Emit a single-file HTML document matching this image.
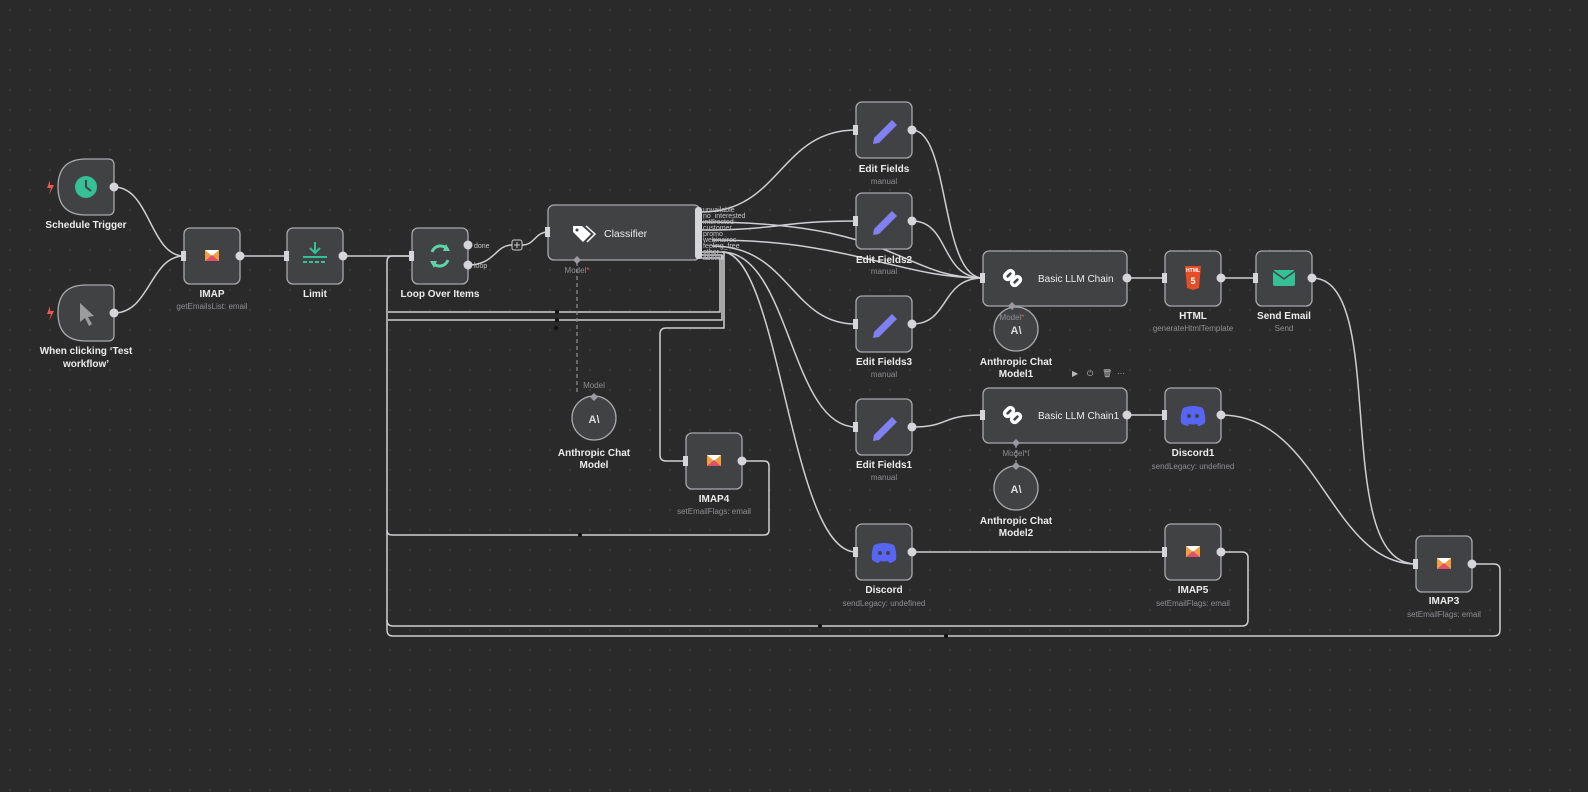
<!DOCTYPE html>
<html><head><meta charset="utf-8"><style>
html,body{margin:0;padding:0;background:#2a2a2b;}
svg{display:block;font-family:"Liberation Sans",sans-serif;}
.n{fill:#414244;stroke:#a9a9ad;stroke-width:1.3}
.w{fill:none;stroke:#cfcfd3;stroke-width:1.5}
.t{fill:#ececec;font-size:10px;font-weight:bold;text-anchor:middle}
.s{fill:#8f8f93;font-size:8px;text-anchor:middle}
.h{fill:#d6d6da}
.p{fill:#c8c8cc}
.o{fill:#c5c5ca;font-size:7px}
</style></head><body>
<svg width="1588" height="792" viewBox="0 0 1588 792">
<defs><pattern id="d" width="20" height="20" patternUnits="userSpaceOnUse"><circle cx="10" cy="10" r="0.8" fill="#454547"/></pattern></defs>
<rect width="1588" height="792" fill="#2a2a2b"/>
<rect width="1588" height="792" fill="url(#d)"/>

<!-- wires -->
<g class="w">
<path d="M114 187 C150 187,150 256,184 256"/>
<path d="M114 313 C150 313,150 256,184 256"/>
<path d="M240 256 H287"/>
<path d="M343 256 H412"/>
<path d="M468 265 C495 265,495 245,512 245"/>
<path d="M522 245 C535 245,535 232,548 232"/>
<!-- classifier outputs -->
<path d="M702 212 C780 212,780 130,856 130"/>
<path d="M702 230 C780 230,780 221,856 221"/>
<path d="M712 246 C790 246,790 324,856 324"/>
<path d="M722 252 C790 252,790 427,856 427"/>
<path d="M722 252 C780 252,790 552,856 552"/>
<path d="M712 240 C850 240,900 278,983 278"/>
<path d="M702 222 C900 222,900 278,983 278"/>
<!-- loopbacks -->
<path d="M700 258 H720 V312 H388"/>
<path d="M700 255 H722 V320 H388"/>
<path d="M700 252 H724 V328 H666 Q660 328 660 334 V455 Q660 461 666 461 H686"/>
<path d="M742 461 H764 Q769 461 769 466 V530 Q769 535 764 535 H392 Q387 535 387 530"/>
<path d="M412 256 H392 Q387 256 387 262 V630 Q387 636 393 636 H1494 Q1500 636 1500 630 V570 Q1500 564 1494 564 H1472"/>
<path d="M387 620 Q387 626 393 626 H1242 Q1248 626 1248 620 V558 Q1248 552 1242 552 H1221"/>
<!-- edit fields to chains -->
<path d="M912 130 C950 130,940 278,983 278"/>
<path d="M912 221 C950 221,940 278,983 278"/>
<path d="M912 324 C950 324,940 278,983 278"/>
<path d="M912 427 C950 427,940 415,983 415"/>
<path d="M912 552 H1165"/>
<path d="M1127 278 H1165"/>
<path d="M1221 278 H1256"/>
<path d="M1127 415 H1165"/>
<path d="M1312 278 C1390 278,1330 564,1416 564"/>
<path d="M1221 415 C1320 415,1330 564,1416 564"/>
</g>
<g fill="#111"><circle cx="557" cy="312" r="2"/><circle cx="557" cy="320" r="2"/><circle cx="556" cy="328" r="2"/><circle cx="580" cy="535" r="2"/><circle cx="820" cy="626" r="2"/><circle cx="946" cy="636" r="2"/></g>
<!-- model dashed -->
<path d="M577 262 V395" stroke="#8a8a8e" stroke-width="1.3" stroke-dasharray="4 3" fill="none"/>
<path d="M1012 308 V318" stroke="#8a8a8e" stroke-width="1.3" stroke-dasharray="3 2"/>
<path d="M1016 445 V466" stroke="#8a8a8e" stroke-width="1.3" stroke-dasharray="3 2"/>

<!-- nodes -->
<path class="n" d="M86 159 H108 Q114 159 114 165 V209 Q114 215 108 215 H86 Q58 215 58 187 Q58 159 86 159Z"/>
<circle cx="86" cy="187" r="11" fill="#35c096"/><path d="M86 180 V187 L91 191" stroke="#414244" stroke-width="2" fill="none"/>
<path class="n" d="M86 285 H108 Q114 285 114 291 V335 Q114 341 108 341 H86 Q58 341 58 313 Q58 285 86 285Z"/>
<path d="M80 303 L80 322 L85 318 L89 326 L92 324 L88 317 L94 316Z" fill="#9c9c9f"/>
<path d="M50 180 L47 188 L51 188 L49 195 L54 185 L50 185Z" fill="#ea5a4e"/>
<path d="M50 306 L47 314 L51 314 L49 321 L54 311 L50 311Z" fill="#ea5a4e"/>
<text class="t" x="86" y="228">Schedule Trigger</text>
<text class="t" x="86" y="354">When clicking ‘Test</text>
<text class="t" x="86" y="367">workflow’</text>

<rect class="n" x="184" y="228" width="56" height="56" rx="6"/>
<rect class="n" x="287" y="228" width="56" height="56" rx="6"/>
<rect class="n" x="412" y="228" width="56" height="56" rx="6"/>
<rect class="n" x="548" y="205" width="152" height="55" rx="6"/>
<rect class="n" x="856" y="102" width="56" height="56" rx="6"/>
<rect class="n" x="856" y="193" width="56" height="56" rx="6"/>
<rect class="n" x="856" y="296" width="56" height="56" rx="6"/>
<rect class="n" x="856" y="399" width="56" height="56" rx="6"/>
<rect class="n" x="856" y="524" width="56" height="56" rx="6"/>
<rect class="n" x="983" y="251" width="144" height="55" rx="6"/>
<rect class="n" x="983" y="388" width="144" height="55" rx="6"/>
<rect class="n" x="1165" y="251" width="56" height="55" rx="6"/>
<rect class="n" x="1256" y="251" width="56" height="55" rx="6"/>
<rect class="n" x="1165" y="388" width="56" height="55" rx="6"/>
<rect class="n" x="686" y="433" width="56" height="56" rx="6"/>
<rect class="n" x="1165" y="524" width="56" height="56" rx="6"/>
<rect class="n" x="1416" y="536" width="56" height="56" rx="6"/>
<circle class="n" cx="594" cy="418" r="22"/>
<circle class="n" cx="1016" cy="329" r="22"/>
<circle class="n" cx="1016" cy="488" r="22"/>

<!-- icons -->
<g id="mail"><rect x="205" y="250" width="14" height="11" fill="#f0a040"/><path d="M205 250 L212 256 L219 250Z" fill="#fff"/><path d="M205 261 L212 255 L219 261" fill="#e0506a"/></g>
<use href="#mail" x="502" y="205"/><use href="#mail" x="981" y="296"/><use href="#mail" x="981" y="296" transform="translate(0 0)"/>
<use href="#mail" x="1232" y="308"/>
<use href="#mail" x="981" y="296"/>
<path d="M315 242 V252 M310 248 L315 253 L320 248 M303 257 H327" stroke="#35c096" stroke-width="2" fill="none"/><path d="M303 262 H327" stroke="#35c096" stroke-width="2" stroke-dasharray="4 2"/>
<path d="M432 252 A9 9 0 0 1 448 250 M448 260 A9 9 0 0 1 432 262" stroke="#5fd3a8" stroke-width="3" fill="none"/><path d="M446 244 L450 251 L443 251Z M434 268 L430 261 L437 261Z" fill="#5fd3a8"/>
<path d="M573 226 L582 226 L591 234 L583 242 L573 232Z" fill="#fff"/><circle cx="577" cy="230" r="1.5" fill="#414244"/><path d="M586 226 L595 234 L587 242" stroke="#fff" stroke-width="1.5" fill="none"/>
<g fill="#8080f0"><path d="M874 138 L892 120 L897 125 L879 143 L873 144Z"/><path d="M874 229 L892 211 L897 216 L879 234 L873 235Z"/><path d="M874 332 L892 314 L897 319 L879 337 L873 338Z"/><path d="M874 435 L892 417 L897 422 L879 440 L873 441Z"/></g>
<g stroke="#fff" stroke-width="3.5" fill="none"><rect x="1004" y="272" width="10" height="6" rx="3" transform="rotate(-45 1009 275)"/><rect x="1011" y="278" width="10" height="6" rx="3" transform="rotate(-45 1016 281)"/><rect x="1004" y="409" width="10" height="6" rx="3" transform="rotate(-45 1009 412)"/><rect x="1011" y="415" width="10" height="6" rx="3" transform="rotate(-45 1016 418)"/></g>
<path d="M1185 266 H1201 L1199 288 L1193 290 L1187 288Z" fill="#e44d26"/><text x="1193" y="272" fill="#fff" font-size="5" text-anchor="middle" font-weight="bold">HTML</text><text x="1193" y="284" fill="#fff" font-size="9" text-anchor="middle" font-weight="bold">5</text>
<rect x="1273" y="270" width="22" height="16" rx="2" fill="#35c096"/><path d="M1273 271 L1284 279 L1295 271" stroke="#414244" stroke-width="1.5" fill="none"/>
<g fill="#5865f2"><path d="M874 545 Q884 541 894 545 Q897 552 896 560 Q892 563 889 563 L888 561 Q884 562 880 561 L879 563 Q876 563 872 560 Q871 552 874 545Z"/><path d="M1183 408 Q1193 404 1203 408 Q1206 415 1205 423 Q1201 426 1198 426 L1197 424 Q1193 425 1189 424 L1188 426 Q1185 426 1181 423 Q1180 415 1183 408Z"/></g>
<g fill="#414244"><circle cx="880" cy="553" r="2"/><circle cx="888" cy="553" r="2"/><circle cx="1189" cy="416" r="2"/><circle cx="1197" cy="416" r="2"/></g>
<g fill="#ddd" font-size="11" font-weight="bold" text-anchor="middle"><text x="594" y="423">A\</text><text x="1016" y="334">A\</text><text x="1016" y="493">A\</text></g>

<!-- ports -->
<g class="h"><rect x="181" y="251" width="5" height="10"/><rect x="284" y="251" width="5" height="10"/><rect x="409" y="251" width="5" height="10"/><rect x="545" y="227" width="5" height="10"/><rect x="853" y="125" width="5" height="10"/><rect x="853" y="216" width="5" height="10"/><rect x="853" y="319" width="5" height="10"/><rect x="853" y="422" width="5" height="10"/><rect x="853" y="547" width="5" height="10"/><rect x="980" y="273" width="5" height="10"/><rect x="980" y="410" width="5" height="10"/><rect x="1162" y="273" width="5" height="10"/><rect x="1253" y="273" width="5" height="10"/><rect x="1162" y="410" width="5" height="10"/><rect x="683" y="456" width="5" height="10"/><rect x="1162" y="547" width="5" height="10"/><rect x="1413" y="559" width="5" height="10"/>
<circle cx="114" cy="187" r="4.5"/><circle cx="114" cy="313" r="4.5"/><circle cx="240" cy="256" r="4.5"/><circle cx="343" cy="256" r="4.5"/><circle cx="468" cy="245" r="4.5"/><circle cx="468" cy="265" r="4.5"/><circle cx="912" cy="130" r="4.5"/><circle cx="912" cy="221" r="4.5"/><circle cx="912" cy="324" r="4.5"/><circle cx="912" cy="427" r="4.5"/><circle cx="912" cy="552" r="4.5"/><circle cx="1127" cy="278" r="4.5"/><circle cx="1127" cy="415" r="4.5"/><circle cx="1221" cy="278" r="4.5"/><circle cx="1312" cy="278" r="4.5"/><circle cx="1221" cy="415" r="4.5"/><circle cx="742" cy="461" r="4.5"/><circle cx="1221" cy="552" r="4.5"/><circle cx="1472" cy="564" r="4.5"/>
<rect x="695" y="207" width="7" height="52" rx="3"/></g>
<rect x="512" y="240" width="10" height="10" rx="2" fill="#2a2a2b" stroke="#ccc"/><path d="M514 245 H520 M517 242 V248" stroke="#ccc"/>
<g fill="#9a9aa0"><path d="M577 256 L581 260 L577 264 L573 260Z"/><path d="M594 393 L598 397 L594 401 L590 397Z"/><path d="M1012 302 L1016 306 L1012 310 L1008 306Z"/><path d="M1016 439 L1020 443 L1016 447 L1012 443Z"/><path d="M1016 462 L1020 466 L1016 470 L1012 466Z"/></g>
<text class="o" x="474" y="248">done</text><text class="o" x="474" y="268">loop</text>
<g class="o"><text x="703" y="212">unvailable</text><text x="703" y="218">no_interested</text><text x="703" y="224">interested</text><text x="703" y="230">customer</text><text x="703" y="236">promo</text><text x="703" y="242">webinaires</text><text x="703" y="248">feeling_free</text><text x="703" y="254">other</text><text x="703" y="260">absent</text></g>
<text class="s" x="577" y="273">Model<tspan fill="#e55">*</tspan></text>
<text class="s" x="594" y="388">Model</text>
<text class="s" x="1012" y="320">Model<tspan fill="#e55">*</tspan></text>
<text class="s" x="1016" y="456">Model*I</text>
<g fill="#bbb" font-size="8"><text x="1072" y="376">▶</text><text x="1087" y="376">⏻</text><text x="1102" y="376">🗑</text><text x="1117" y="376">···</text></g>

<!-- labels -->
<text class="t" x="212" y="297">IMAP</text><text class="s" x="212" y="309">getEmailsList: email</text>
<text class="t" x="315" y="297">Limit</text>
<text class="t" x="440" y="297">Loop Over Items</text>
<text x="604" y="237" fill="#ececec" font-size="10.5">Classifier</text>
<text x="1038" y="282" fill="#ececec" font-size="10">Basic LLM Chain</text>
<text x="1038" y="419" fill="#ececec" font-size="10">Basic LLM Chain1</text>
<text class="t" x="884" y="172">Edit Fields</text><text class="s" x="884" y="184">manual</text>
<text class="t" x="884" y="263">Edit Fields2</text><text class="s" x="884" y="274">manual</text>
<text class="t" x="884" y="365">Edit Fields3</text><text class="s" x="884" y="377">manual</text>
<text class="t" x="884" y="468">Edit Fields1</text><text class="s" x="884" y="480">manual</text>
<text class="t" x="884" y="593">Discord</text><text class="s" x="884" y="606">sendLegacy: undefined</text>
<text class="t" x="1016" y="365">Anthropic Chat</text><text class="t" x="1016" y="377">Model1</text>
<text class="t" x="1016" y="524">Anthropic Chat</text><text class="t" x="1016" y="536">Model2</text>
<text class="t" x="594" y="456">Anthropic Chat</text><text class="t" x="594" y="468">Model</text>
<text class="t" x="1193" y="319">HTML</text><text class="s" x="1193" y="331">generateHtmlTemplate</text>
<text class="t" x="1284" y="319">Send Email</text><text class="s" x="1284" y="331">Send</text>
<text class="t" x="1193" y="456">Discord1</text><text class="s" x="1193" y="469">sendLegacy: undefined</text>
<text class="t" x="714" y="502">IMAP4</text><text class="s" x="714" y="514">setEmailFlags: email</text>
<text class="t" x="1193" y="593">IMAP5</text><text class="s" x="1193" y="606">setEmailFlags: email</text>
<text class="t" x="1444" y="604">IMAP3</text><text class="s" x="1444" y="617">setEmailFlags: email</text>
</svg>
</body></html>
